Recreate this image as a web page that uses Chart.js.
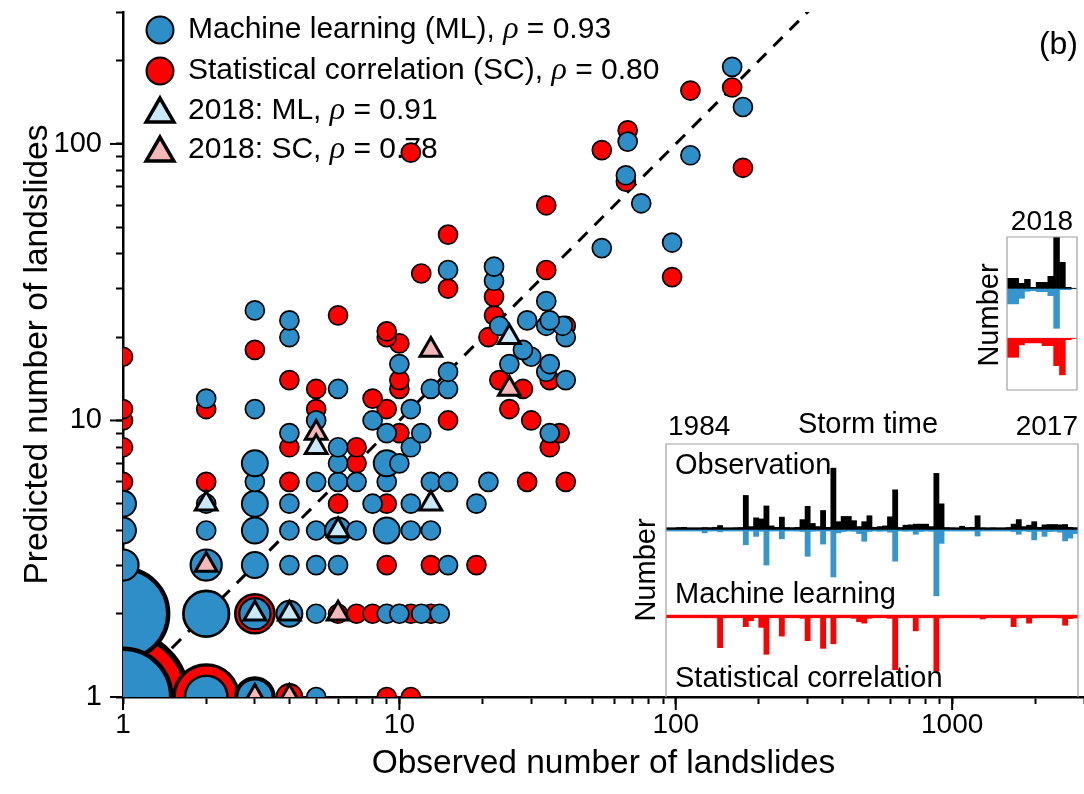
<!DOCTYPE html>
<html>
<head>
<meta charset="utf-8">
<title>Observed vs predicted landslides</title>
<script src="https://cdn.jsdelivr.net/npm/chart.js@4.4.1/dist/chart.umd.min.js"></script>
<style>
  html, body { margin: 0; padding: 0; background: #fff; }
  #fig { position: relative; width: 1084px; height: 794px; overflow: hidden; }
  #fig canvas { position: absolute; }
</style>
</head>
<body>
<div id="fig">
  <canvas id="scatter" width="1084" height="794" style="left:0;top:0"></canvas>
  <canvas id="storms" width="464" height="297" style="left:620px;top:400px"></canvas>
  <canvas id="year2018" width="114" height="195" style="left:970px;top:200px"></canvas>
</div>
<script>
// ---------- scatter: observed vs predicted landslides per storm ----------
// Machine learning (ML): observed, predicted, number of storms sharing the point
const mlObs = [1,1,2,3,5, 2,3,4,5,9,10,12,14, 1,2,3,4,5,6,15, 1,2,3,4,5,6,7,9,11,13, 1,2,3,4,8,11,19,
  3,5,6,7,9,13,15,21, 3,6,9,10, 6,11, 4,9,12,35, 5,8, 3,11, 2, 6,13,15, 40, 15,34, 10,25,35, 30,28, 4,40,
  23,34,39, 4,29,35, 3,34,22,15,22, 54,97,75,66,113,67,175,160];
const mlPred = [2,1,1,1,1, 2,2,2,2,2,2,2,2, 3,3,3,3,3,3,3, 4,4,4,4,4,4,4,4,4,4, 5,5,5,5,5,5,5,
  6,6,6,6,6,6,6,6, 7,7,7,7, 8,8, 9,9,9,9, 10,10, 11,11, 12, 13,13,13, 14, 15,15, 16,16,16, 17,18, 20,20,
  22,22,22, 23,23,23, 25,27,32,35,36, 42,44,61,77,91,102,136,190];
const mlCount = [32,37,6,4,1, 7,3,2,1,1,1,1,1, 3,3,2,1,1,1,1, 2,1,2,1,1,2,1,2,1,1, 2,1,2,1,1,1,1,
  1,1,1,1,1,1,1,1, 2,1,2,1, 1,1, 1,1,1,1, 1,1, 1,1, 1, 1,1,1, 1, 1,1, 1,1,1, 1,1, 1,1,
  1,1,1, 1,1,1, 1,1,1,1,1, 1,1,1,1,1,1,1,1];

// Statistical correlation (SC)
const scObs = [1,2,3,4,9,11, 3,6,7,8,11,13, 9,13,19, 6,9, 1,2,4,29,40, 7, 1,4,7,35, 10,38, 1,15,30,
  1,2,5,9,25, 8, 5,10,28, 4,10,23,35,
  1,3,10,9,21,9,40,6,22,22,15,97,12,34,15,34,66,175,11,54,67,113,160];
const scPred = [1,1,1,1,1,1, 2,2,2,2,2,2, 3,3,3, 5,5, 6,6,6,6,6, 7, 8,8,8,8, 9,9, 10,10,10,
  11,11,11,11,11, 12, 13,13,13, 14,14,14,14,
  17,18,19,20,20,21,22,24,24,28,30,33,34,35,47,60,73,82,93,95,112,156,160];
const scCount = [70,15,5,2,1,1, 5,1,1,1,1,1, 1,1,1, 1,1, 1,1,1,1,1, 1, 1,1,1,1, 1,1, 1,1,1,
  1,1,1,1,1, 1, 1,1,1, 1,1,1,1,
  1,1,1,1,1,1,1,1,1,1,1,1,1,1,1,1,1,1,1,1,1,1,1];

// Storms of 2018
const ml2018Obs  = [2, 3, 4, 5, 6, 13, 25];
const ml2018Pred = [5, 2, 2, 8, 4, 5, 20];
const sc2018Obs  = [2, 3, 4, 5, 6, 13, 25];
const sc2018Pred = [3, 1, 1, 9, 2, 18, 13];

// 1:1 reference line end values
const identity = [1, 3000];

// axis labels
const xTickLabels = ['1', '10', '100', '1000'];
const yTickLabels = ['1', '10', '100'];
const legendNames = ['Machine learning (ML), ', 'Statistical correlation (SC), ', '2018: ML, ', '2018: SC, '];
const legendRho = ['0.93', '0.80', '0.91', '0.78'];

// ---------- storm time series 1984-2017 (number of landslides per storm) ----------
const obsStorm = [3,3,5,6,3,2,3,5,4,6, 11,3,2,4,5,97,8,33,30,67, 10,6,35,5,4,6,28,66,17,8,
  54,6,175,22,37,37,25,8,22,39, 6,8,10,36,113,5,12,13,15,15, 15,8,160,73,5,4,3,9,5,6,
  39,4,3,4,3,2,5,15,28,8, 12,22,6,13,14,14,13,14,6,4];
const mlStorm = [2,2,3,2,2,3,2,10,3,2, 7,2,2,3,2,44,4,20,5,102, 4,3,27,3,2,4,6,77,5,3,
  42,4,136,10,6,4,5,12,34,6, 3,5,4,8,91,3,5,4,14,6, 4,5,190,40,3,2,3,4,3,3,
  19,3,2,3,2,2,3,6,14,4, 6,30,5,20,6,5,8,33,25,12];
const scStorm = [3,2,3,2,3,2,3,4,3,5, 93,4,3,4,6,33,16,5,35,112, 5,4,60,4,3,5,9,73,6,4,
  95,5,82,6,5,4,9,19,23,9, 5,4,6,9,156,4,5,3,45,5, 4,3,160,8,4,3,5,3,4,3,
  6,11,3,4,3,4,5,33,8,5, 23,8,5,4,3,5,8,29,10,8];

// ---------- storms of 2018 ----------
const obs2018 = [5, 5, 2.5, 4.5, 0.5, 3, 3, 6, 26, 13, 0.5, 0];
const ml2018  = [7.8, 7.8, 5, 1.5, 1.2, 1.7, 1.7, 3.7, 20, 0.7, 0.7, 0];
const sc2018  = [9.5, 9.5, 3.3, 2.3, 2.3, 2.3, 3.7, 3.7, 13.7, 18.3, 0.7, 0];

// ---------- styling ----------
const FONT = '"Liberation Sans", Arial, Helvetica, sans-serif';
const RHO_FONT = '"Liberation Serif", "DejaVu Serif", serif';
const BLUE = '#2e8ec7';
const BAR_BLUE = '#3496cd';
const RED = '#ff0000';
const LIGHT_BLUE = '#c9e8f8';
const PINK = '#f5b7b7';

Chart.defaults.font.family = FONT;
Chart.defaults.color = '#000';

const toPoints = (xs, ys) => xs.map((x, i) => ({ x, y: ys[i] }));
const bubbleRadius = n => 9.5 * Math.pow(n, 0.45);
const bubbleBorder = n => 1 + 0.075 * bubbleRadius(n);

// minor/major log ticks (1..9 per decade)
function logTicks(min, max) {
  const out = [];
  for (let e = Math.floor(Math.log10(min)); e <= Math.ceil(Math.log10(max)); e++) {
    for (let m = 1; m <= 9; m++) {
      const v = m * Math.pow(10, e);
      if (v >= min - 1e-9 && v <= max + 1e-9) out.push({ value: v });
    }
  }
  return out;
}
const labelFrom = list => v => (list.includes(String(v)) ? String(v) : '');

function drawRich(ctx, parts, x, y) {
  let cx = x;
  for (const [txt, italic, size] of parts) {
    ctx.font = italic ? `italic ${size}px ${RHO_FONT}` : `${size}px ${FONT}`;
    ctx.fillText(txt, cx, y);
    cx += ctx.measureText(txt).width;
  }
}
function circle(ctx, x, y, r, fill, bw) {
  ctx.beginPath(); ctx.arc(x, y, r, 0, Math.PI * 2);
  ctx.fillStyle = fill; ctx.fill();
  ctx.lineWidth = bw; ctx.strokeStyle = '#000'; ctx.stroke();
}
function triangle(ctx, x, y, r, fill, bw) {
  const c = Math.cos(Math.PI / 6) * r;
  ctx.beginPath();
  ctx.moveTo(x, y - r); ctx.lineTo(x + c, y + r / 2); ctx.lineTo(x - c, y + r / 2); ctx.closePath();
  ctx.fillStyle = fill; ctx.fill();
  ctx.lineJoin = 'miter'; ctx.lineWidth = bw; ctx.strokeStyle = '#000'; ctx.stroke();
}

// key box drawn beneath the markers
const keyPlugin = {
  id: 'keyBox',
  beforeDatasetsDraw(chart) {
    const ctx = chart.ctx;
    const rows = [30, 71, 111, 150];
    const sx = 160, tx = 188;
    ctx.save();
    circle(ctx, sx, rows[0], 13.5, BLUE, 2);
    circle(ctx, sx, rows[1], 13.5, RED, 2);
    triangle(ctx, sx, rows[2] + 3, 16, LIGHT_BLUE, 3.5);
    triangle(ctx, sx, rows[3] + 3, 16, PINK, 3.5);
    ctx.fillStyle = '#000';
    ctx.textBaseline = 'middle';
    ctx.textAlign = 'left';
    legendNames.forEach((name, i) => {
      drawRich(ctx, [[name, false, 30], ['\u03C1', true, 32], [' = ' + legendRho[i], false, 30]], tx, rows[i]);
    });
    ctx.font = `32px ${FONT}`;
    ctx.textAlign = 'right';
    ctx.fillText('(b)', 1078, 45);
    ctx.restore();
  }
};

// longer marks at the decades
const majorTickPlugin = {
  id: 'majorTicks',
  afterDraw(chart) {
    const { ctx, scales: { x, y } } = chart;
    ctx.save();
    ctx.strokeStyle = '#000';
    ctx.lineWidth = 2;
    xTickLabels.forEach(l => {
      const px = x.getPixelForValue(Number(l));
      ctx.beginPath(); ctx.moveTo(px, x.top); ctx.lineTo(px, x.top + 13); ctx.stroke();
    });
    yTickLabels.forEach(l => {
      const py = y.getPixelForValue(Number(l));
      ctx.beginPath(); ctx.moveTo(y.right, py); ctx.lineTo(y.right - 13, py); ctx.stroke();
    });
    ctx.restore();
  }
};

const axisCommon = {
  type: 'logarithmic',
  z: 1,
  border: { display: true, color: '#000', width: 2.5 },
  grid: { drawOnChartArea: false, drawTicks: true, tickLength: 7, tickColor: '#000', tickWidth: 2 },
};

new Chart(document.getElementById('scatter'), {
  type: 'scatter',
  data: {
    datasets: [
      {
        label: '2018: ML', data: toPoints(ml2018Obs, ml2018Pred), order: 0,
        pointStyle: 'triangle', pointRadius: 12.5, pointBackgroundColor: LIGHT_BLUE,
        pointBorderColor: '#000', pointBorderWidth: 3, clip: 0
      },
      {
        label: '2018: SC', data: toPoints(sc2018Obs, sc2018Pred), order: 1,
        pointStyle: 'triangle', pointRadius: 12.5, pointBackgroundColor: PINK,
        pointBorderColor: '#000', pointBorderWidth: 3, clip: 0
      },
      {
        label: 'Machine learning (ML)', data: toPoints(mlObs, mlPred), order: 2,
        pointRadius: mlCount.map(bubbleRadius), pointBorderWidth: mlCount.map(bubbleBorder),
        pointBackgroundColor: BLUE, pointBorderColor: '#000', clip: 0
      },
      {
        label: 'Statistical correlation (SC)', data: toPoints(scObs, scPred), order: 3,
        pointRadius: scCount.map(bubbleRadius), pointBorderWidth: scCount.map(bubbleBorder),
        pointBackgroundColor: RED, pointBorderColor: '#000', clip: 0
      },
      {
        label: '1:1', data: toPoints(identity, identity), order: 4, showLine: true,
        borderColor: '#000', borderWidth: 3, borderDash: [13, 10], pointRadius: 0, clip: 0
      }
    ]
  },
  options: {
    responsive: false, animation: false, devicePixelRatio: 1, events: [],
    layout: { autoPadding: false, padding: { top: 12, right: 0, left: 0, bottom: 0 } },
    plugins: { legend: { display: false }, tooltip: { enabled: false } },
    scales: {
      x: Object.assign({}, axisCommon, {
        min: 1, max: 3000, position: 'bottom',
        afterBuildTicks: s => { s.ticks = logTicks(1, 3000); },
        ticks: { autoSkip: false, maxRotation: 0, padding: 4, color: '#000', font: { size: 28 }, callback: labelFrom(xTickLabels) },
        title: { display: true, text: 'Observed number of landslides', color: '#000', font: { size: 33.5 }, padding: { top: 0, bottom: 10 } },
        afterFit: s => { s.height = 97; s.paddingLeft = 0; s.paddingRight = 0; }
      }),
      y: Object.assign({}, axisCommon, {
        min: 1, max: 300, position: 'left',
        afterBuildTicks: s => { s.ticks = logTicks(1, 300); },
        ticks: { autoSkip: false, padding: 14, color: '#000', font: { size: 29 }, callback: labelFrom(yTickLabels) },
        title: { display: true, text: 'Predicted number of landslides', color: '#000', font: { size: 33.5 }, padding: { top: 18, bottom: 0 } },
        afterFit: s => { s.width = 123; s.paddingTop = 0; s.paddingBottom = 0; }
      })
    }
  },
  plugins: [keyPlugin, majorTickPlugin]
});

// ---------- inset: storm time series ----------
const STORM_GAP = 245;      // offset of the SC baseline below the shared baseline
const stormLabels = obsStorm.map((_, i) => i + 1);

function insetPlugin(opts) {
  return {
    id: 'insetDecor',
    beforeDatasetsDraw(chart) {
      const { ctx, chartArea: a, scales: { y } } = chart;
      ctx.save();
      if (opts.guides) {
        ctx.strokeStyle = '#a8a8a8'; ctx.lineWidth = 1.2;
        [0, -opts.gap].forEach(v => {
          const py = y.getPixelForValue(v);
          ctx.beginPath(); ctx.moveTo(a.left, py); ctx.lineTo(a.right, py); ctx.stroke();
        });
      } else {
        const p0 = y.getPixelForValue(0), p1 = y.getPixelForValue(-opts.gap);
        ctx.fillStyle = '#000'; ctx.fillRect(a.left, p0 - 2, a.right - a.left, 2);
        ctx.fillStyle = BAR_BLUE; ctx.fillRect(a.left, p0, a.right - a.left, 2);
        ctx.fillStyle = RED; ctx.fillRect(a.left, p1, a.right - a.left, 3);
      }
      ctx.restore();
    },
    afterDraw(chart) {
      const { ctx, chartArea: a } = chart;
      ctx.save();
      ctx.strokeStyle = '#a0a0a0'; ctx.lineWidth = 1.2;
      ctx.beginPath();
      if (opts.closed) {
        ctx.rect(a.left, a.top, a.right - a.left, a.bottom - a.top);
      } else {
        ctx.moveTo(a.left, a.bottom); ctx.lineTo(a.left, a.top); ctx.lineTo(a.right, a.top); ctx.lineTo(a.right, a.bottom);
      }
      ctx.stroke();
      ctx.fillStyle = '#000';
      ctx.textBaseline = 'middle';
      opts.texts.forEach(t => {
        ctx.font = `${t.size}px ${FONT}`;
        ctx.textAlign = t.align;
        ctx.save();
        ctx.translate(a.left + t.dx, a.top + t.dy);
        if (t.rot) ctx.rotate(-Math.PI / 2);
        ctx.fillText(t.text, 0, 0);
        ctx.restore();
      });
      ctx.restore();
    }
  };
}

const barDefaults = { grouped: false, barPercentage: 1, categoryPercentage: 1, borderWidth: 0 };

new Chart(document.getElementById('storms'), {
  type: 'bar',
  data: {
    labels: stormLabels,
    datasets: [
      { label: 'Observation', data: obsStorm.map(v => [0, v]), backgroundColor: '#000' },
      { label: 'Machine learning', data: mlStorm.map(v => [0, -v]), backgroundColor: BAR_BLUE },
      { label: 'Statistical correlation', data: scStorm.map(v => [-STORM_GAP, -STORM_GAP - v]), backgroundColor: RED }
    ]
  },
  options: {
    responsive: false, animation: false, devicePixelRatio: 1, events: [],
    layout: { autoPadding: false, padding: { left: 46, top: 44, right: 6, bottom: 0 } },
    datasets: { bar: barDefaults },
    plugins: { legend: { display: false }, tooltip: { enabled: false } },
    scales: { x: { display: false }, y: { display: false, min: -479, max: 244 } }
  },
  plugins: [insetPlugin({
    gap: STORM_GAP, guides: false, closed: false,
    texts: [
      { text: '1984', dx: 2, dy: -17, align: 'left', size: 28 },
      { text: 'Storm time', dx: 202, dy: -19, align: 'center', size: 29 },
      { text: '2017', dx: 412, dy: -17, align: 'right', size: 28 },
      { text: 'Observation', dx: 9, dy: 22, align: 'left', size: 29 },
      { text: 'Machine learning', dx: 9, dy: 151, align: 'left', size: 29 },
      { text: 'Statistical correlation', dx: 9, dy: 235, align: 'left', size: 29 },
      { text: 'Number', dx: -19, dy: 126, align: 'center', size: 29, rot: true }
    ]
  })]
});

// ---------- inset: storms of 2018 ----------
const GAP_2018 = 25;
new Chart(document.getElementById('year2018'), {
  type: 'bar',
  data: {
    labels: obs2018.map((_, i) => i + 1),
    datasets: [
      { label: 'Observation', data: obs2018.map(v => [0, v]), backgroundColor: '#000' },
      { label: 'Machine learning', data: ml2018.map(v => [0, -v]), backgroundColor: BAR_BLUE },
      { label: 'Statistical correlation', data: sc2018.map(v => [-GAP_2018, -GAP_2018 - v]), backgroundColor: RED }
    ]
  },
  options: {
    responsive: false, animation: false, devicePixelRatio: 1, events: [],
    layout: { autoPadding: false, padding: { left: 37, top: 37, right: 7, bottom: 5 } },
    datasets: { bar: barDefaults },
    plugins: { legend: { display: false }, tooltip: { enabled: false } },
    scales: { x: { display: false }, y: { display: false, min: -50.85, max: 25.65 } }
  },
  plugins: [insetPlugin({
    gap: GAP_2018, guides: true, closed: true,
    texts: [
      { text: '2018', dx: 35, dy: -15, align: 'center', size: 28 },
      { text: 'Number', dx: -17, dy: 78, align: 'center', size: 29, rot: true }
    ]
  })]
});
</script>
</body>
</html>
